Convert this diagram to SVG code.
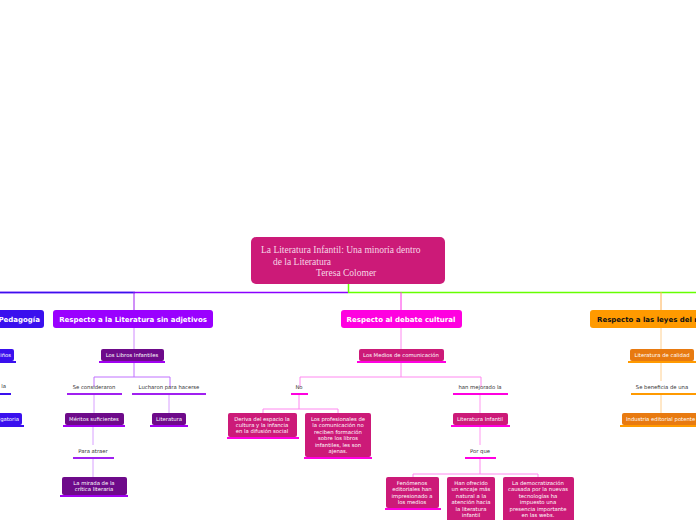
<svg xmlns="http://www.w3.org/2000/svg" width="696" height="520" viewBox="0 0 696 520">
<style>
text{font-family:"DejaVu Sans","Liberation Sans",sans-serif;text-anchor:middle}
.m{font-size:7px;font-weight:bold;fill:#fff}
.s{font-size:5.3px;fill:#fff}
.t{font-size:5.3px;fill:#333}
.r{font-family:"Liberation Serif",serif;font-size:9.5px;fill:#f6d6e6;text-anchor:start}
.c{fill:none;stroke-width:1}
</style>
<rect width="696" height="520" fill="#fff"/>
<g id="connectors" class="c">
<path d="M0 292.5H348" stroke="#8a00ff" stroke-width="1.5"/>
<path d="M0 292.5H135" stroke="#3a10ee" stroke-width="1.5"/>
<path d="M348 292.5H696M348.5 284V292" stroke="#66ff00" stroke-width="1.5"/>
<path d="M134 292V310" stroke="#a020f0"/>
<path d="M401 292V310" stroke="#ff33e6"/>
<path d="M661 292V310" stroke="#ffb050"/>
<path d="M134 328V349" stroke="#d08aff"/>
<path d="M134 362V377M94 387V377H170V387" stroke="#c070ff"/>
<path d="M94 395V413M93 427V445M93 459V477M169 395V413" stroke="#d8a0ff"/>
<path d="M401 328V349" stroke="#ff88f0"/>
<path d="M401 362V377M300 387V377H481V387" stroke="#ff88f0"/>
<path d="M299 395V409M263 413V409H338V413" stroke="#ff88f0"/>
<path d="M480 395V413M480 427V445" stroke="#ff99f0"/>
<path d="M480 459V474M413 477V474H538V477" stroke="#ff88f0"/>
<path d="M661 328V349M661 363V381M661 395V413" stroke="#ffd090"/>
</g>
<g id="root"><rect x="251" y="237" width="194" height="47" rx="5" fill="#cc1a78"/>
<text class="r" x="261" y="253">La Literatura Infantil: Una minoría dentro</text>
<text class="r" x="273" y="265">de la Literatura</text>
<text class="r" x="316" y="276">Teresa  Colomer</text></g>
<g id="n-ped"><rect x="-10" y="310" width="54" height="18" rx="3" fill="#3a10ee"/><text class="m" x="40" y="322" style="text-anchor:end">Pedagogía</text></g>
<g id="n-lit"><rect x="53" y="310" width="160" height="18" rx="3" fill="#9a00ff"/><text class="m" x="133" y="322">Respecto a la Literatura sin adjetivos</text></g>
<g id="n-deb"><rect x="341" y="310" width="121" height="18" rx="3" fill="#ff00e0"/><text class="m" x="401" y="322">Respecto al debate cultural</text></g>
<g id="n-ley"><rect x="590" y="310" width="120" height="18" rx="3" fill="#ff9a00"/><text class="m" x="597" y="322" style="fill:#111;text-anchor:start">Respecto a las leyes del mercado</text></g>
<g id="b1"><rect x="-20" y="349" width="34" height="12" rx="2" fill="#3a10ee"/><rect x="-20" y="361" width="36" height="2" fill="#3a10ee"/><text class="s" x="11" y="357" style="text-anchor:end">Niños</text></g>
<g id="b2"><text class="t" x="6" y="388" style="text-anchor:end">la</text><rect x="-5" y="393" width="16" height="2" fill="#3a10ee"/></g>
<g id="b3"><rect x="-30" y="413" width="52" height="12" rx="2" fill="#3a10ee"/><rect x="-30" y="425" width="54" height="2" fill="#3a10ee"/><text class="s" x="19" y="421" style="text-anchor:end">Obligatoria</text></g>
<g id="p1"><rect x="101" y="349" width="63" height="12" rx="2" fill="#6e0a8a"/><rect x="99" y="361" width="66" height="2" fill="#a000f0"/><text class="s" x="132" y="357">Los Libros Infantiles</text></g>
<g id="p2"><text class="t" x="94" y="389">Se consideraron</text><rect x="67" y="393" width="55" height="2" fill="#a020f0"/></g>
<g id="p3"><text class="t" x="169" y="389">Lucharon para hacerse</text><rect x="132" y="393" width="74" height="2" fill="#a020f0"/></g>
<g id="p4"><rect x="65" y="413" width="59" height="12" rx="2" fill="#6e0a8a"/><rect x="63" y="425" width="62" height="2" fill="#a000f0"/><text class="s" x="94" y="421">Méritos suficientes</text></g>
<g id="p5"><rect x="152" y="413" width="34" height="12" rx="2" fill="#6e0a8a"/><rect x="150" y="425" width="38" height="2" fill="#a000f0"/><text class="s" x="169" y="421">Literatura</text></g>
<g id="p6"><text class="t" x="93" y="453">Para atraer</text><rect x="73" y="457" width="41" height="2" fill="#a020f0"/></g>
<g id="p7"><rect x="62" y="477" width="65" height="18" rx="2" fill="#6e0a8a"/><rect x="60" y="495" width="68" height="2" fill="#a000f0"/><text class="s" x="94" y="485">La mirada de la</text><text class="s" x="94" y="491">crítica literaria</text></g>
<g id="m1"><rect x="359" y="349" width="85" height="12" rx="2" fill="#cc1a78"/><rect x="357" y="361" width="89" height="2" fill="#ff00e0"/><text class="s" x="401" y="357">Los Medios de comunicación</text></g>
<g id="m2"><text class="t" x="299" y="389">No</text><rect x="291" y="393" width="17" height="2" fill="#ff00e0"/></g>
<g id="m3"><text class="t" x="480" y="389">han mejorado la</text><rect x="453" y="393" width="55" height="2" fill="#ff00e0"/></g>
<g id="m4"><rect x="228" y="413" width="69" height="24" rx="2" fill="#cc1a78"/><rect x="227" y="437" width="72" height="2" fill="#ff00e0"/><text class="s" x="262" y="421">Deriva del espacio la</text><text class="s" x="262" y="427">cultura y la infancia</text><text class="s" x="262" y="433">en la difusión social</text></g>
<g id="m5"><rect x="305" y="413" width="66" height="44" rx="2" fill="#cc1a78"/><rect x="304" y="457" width="68" height="2" fill="#ff00e0"/><text class="s" x="338" y="421">Los profesionales de</text><text class="s" x="338" y="427">la comunicación no</text><text class="s" x="338" y="434">reciben formación</text><text class="s" x="338" y="440">sobre los libros</text><text class="s" x="338" y="447">infantiles, les son</text><text class="s" x="338" y="453">ajenas.</text></g>
<g id="m6"><rect x="453" y="413" width="55" height="12" rx="2" fill="#cc1a78"/><rect x="451" y="425" width="59" height="2" fill="#ff00e0"/><text class="s" x="480" y="421">Literatura Infantil</text></g>
<g id="m7"><text class="t" x="480" y="453">Por que</text><rect x="465" y="457" width="31" height="2" fill="#ff00e0"/></g>
<g id="m8"><rect x="386" y="477" width="53" height="31" rx="2" fill="#cc1a78"/><rect x="385" y="508" width="56" height="2" fill="#ff00e0"/><text class="s" x="412" y="485">Fenómenos</text><text class="s" x="412" y="491">editoriales han</text><text class="s" x="412" y="498">impresionado a</text><text class="s" x="412" y="504">los medios</text></g>
<g id="m9"><rect x="447" y="477" width="48" height="45" rx="2" fill="#cc1a78"/><text class="s" x="471" y="485">Han ofrecido</text><text class="s" x="471" y="491">un encaje más</text><text class="s" x="471" y="498">natural a la</text><text class="s" x="471" y="504">atención hacia</text><text class="s" x="471" y="511">la  literatura</text><text class="s" x="471" y="517">infantil</text></g>
<g id="m10"><rect x="503" y="477" width="71" height="45" rx="2" fill="#cc1a78"/><text class="s" x="538" y="485">La democratización</text><text class="s" x="538" y="491">causada por la nuevas</text><text class="s" x="538" y="498">tecnologías ha</text><text class="s" x="538" y="504">impuesto una</text><text class="s" x="538" y="511">presencia importante</text><text class="s" x="538" y="517">en las webs.</text></g>
<g id="o1"><rect x="630" y="349" width="64" height="12" rx="2" fill="#e87a10"/><rect x="628" y="361" width="68" height="2" fill="#ff9a00"/><text class="s" x="662" y="357">Literatura de calidad</text></g>
<g id="o2"><text class="t" x="662" y="389">Se beneficia de una</text><rect x="631" y="393" width="66" height="2" fill="#ff9a00"/></g>
<g id="o3"><rect x="622" y="413" width="80" height="12" rx="2" fill="#e87a10"/><rect x="620" y="425" width="82" height="2" fill="#ff9a00"/><text class="s" x="626" y="421" style="text-anchor:start">Industria editorial potente</text></g>
</svg>
